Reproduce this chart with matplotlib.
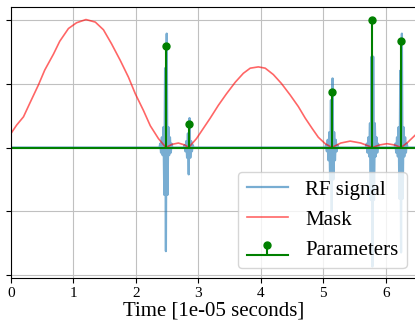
import numpy as np
import matplotlib
matplotlib.use("Agg")
from matplotlib import pyplot as plt

plt.rcParams['font.family'] = ['Liberation Serif', 'DejaVu Serif']

# mask curve (time in 1e-5 s, value)
mask_t = [0.0, 0.09, 0.2, 0.3, 0.44, 0.54, 0.68, 0.78, 0.92, 1.05, 1.2, 1.35, 1.48,
          1.61, 1.75, 1.88, 1.99, 2.12, 2.23, 2.36, 2.48, 2.58, 2.68, 2.78, 2.845,
          2.97, 3.08, 3.19, 3.32, 3.45, 3.59, 3.72, 3.83, 3.96, 4.07, 4.2, 4.33,
          4.47, 4.6, 4.71, 4.82, 4.92, 5.03, 5.135, 5.28, 5.43, 5.6, 5.786, 5.9,
          6.02, 6.14, 6.245, 6.35, 6.5]
mask_v = [0.11, 0.175, 0.24, 0.345, 0.49, 0.605, 0.73, 0.83, 0.93, 0.975, 1.0, 0.98, 0.92,
          0.81, 0.68, 0.55, 0.42, 0.29, 0.17, 0.07, 0.0, 0.025, 0.035, 0.02, 0.0,
          0.07, 0.15, 0.23, 0.33, 0.42, 0.51, 0.58, 0.62, 0.63, 0.62, 0.57, 0.50,
          0.41, 0.32, 0.23, 0.15, 0.08, 0.03, 0.0, 0.035, 0.05, 0.035, 0.0, 0.02,
          0.03, 0.02, 0.0, 0.04, 0.11]

# parameters (stem)
param_t = [2.48, 2.845, 5.135, 5.786, 6.245]
param_v = [0.79, 0.18, 0.43, 1.0, 0.83]

# RF signal: oscillation peaks of each pulse, in time order
pulse_peaks = [
    [0.03, -0.04, 0.08, -0.06, 0.16, -0.37, 0.62, -0.81, 0.89, -0.37, 0.16, -0.06, 0.08, -0.04, 0.03],
    [0.02, -0.03, 0.05, -0.08, 0.11, -0.21, 0.23, -0.08, 0.05, -0.03, 0.02],
    [0.02, -0.03, 0.06, -0.1, 0.12, -0.25, 0.37, -0.5, 0.54, -0.25, 0.12, -0.1, 0.06, -0.03, 0.02],
    [0.03, -0.04, 0.08, -0.07, 0.19, -0.41, 0.71, -0.93, 0.71, -0.41, 0.19, -0.07, 0.08, -0.04, 0.03],
    [0.03, -0.04, 0.08, -0.07, 0.16, -0.4, 0.6, -0.82, 0.89, -0.4, 0.16, -0.07, 0.08, -0.04, 0.03],
]

# build the rf line
dt = 0.013
rf_t = [0.0]
rf_v = [0.0]
for c, peaks in zip(param_t, pulse_peaks):
    n = len(peaks)
    offs = (np.arange(n) - (n - 1) / 2) * dt
    rf_t.append(c + offs[0] - dt)
    rf_v.append(0.0)
    rf_t.extend(c + offs)
    rf_v.extend(peaks)
    rf_t.append(c + offs[-1] + dt)
    rf_v.append(0.0)
rf_t.append(6.5)
rf_v.append(0.0)

fig = plt.figure(figsize=(4.15, 3.24), dpi=100)
ax = fig.add_axes([11 / 415, 1 - 278.3 / 324, (417 - 11) / 415, (278.3 - 7) / 324])

ax.plot(rf_t, rf_v, color='C0', alpha=0.6, lw=1.6, label='RF signal')
ax.plot(mask_t, mask_v, color='red', alpha=0.6, lw=1.2, label='Mask')
markerline, stemlines, baseline = ax.stem(param_t, param_v, linefmt='g-', markerfmt='go',
                                          basefmt='g-', label='Parameters')
markerline.set_markersize(5)
stemlines.set_linewidth(1.5)
baseline.set_linewidth(1.5)
baseline.set_xdata([0, 6.5])

ax.set_xlim(0, 6.5)
ax.set_ylim(-1.022, 1.098)
ax.set_xticks([0, 1, 2, 3, 4, 5, 6])
ax.set_yticks([-1, -0.5, 0, 0.5, 1])
ax.set_yticklabels([])
ax.tick_params(labelsize=11, pad=3)
ax.grid(True, color='#c0c0c0')
ax.set_xlabel('Time [1e-05 seconds]', fontsize=15, labelpad=1)
ax.legend(loc='lower right', fontsize=15)

fig.savefig('out.png', dpi=100)
